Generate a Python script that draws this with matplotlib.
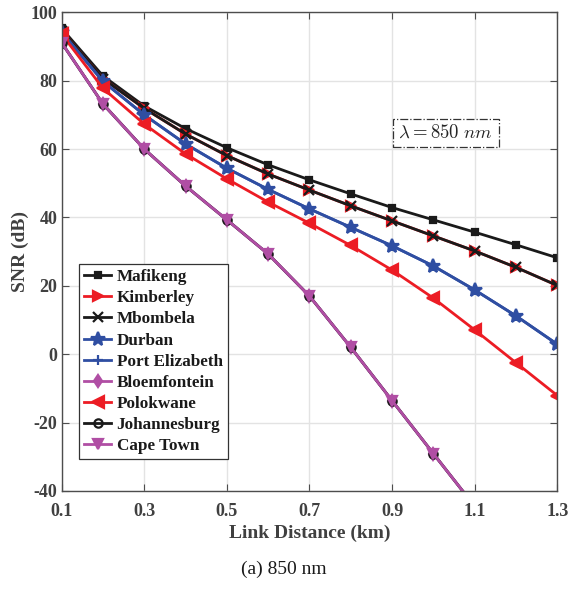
import numpy as np
import matplotlib
matplotlib.use("Agg")
import matplotlib.pyplot as plt

plt.rcParams["font.family"] = ["Liberation Serif", "DejaVu Serif"]
plt.rcParams["mathtext.fontset"] = "cm"
plt.rcParams["axes.unicode_minus"] = False

distance = [0.1, 0.2, 0.3, 0.4, 0.5, 0.6, 0.7, 0.8, 0.9, 1.0, 1.1, 1.2, 1.3]

snr_mafikeng = [95.3, 81.4, 72.6, 66.0, 60.4, 55.4, 51.0, 46.9, 42.9, 39.3, 35.7, 32.0, 28.2]
snr_mbombela = [94.6, 80.6, 71.9, 64.4, 58.1, 52.7, 48.0, 43.4, 39.0, 34.6, 30.2, 25.4, 20.1]
snr_durban = [94.2, 79.8, 70.0, 61.5, 54.4, 48.2, 42.5, 37.1, 31.7, 25.8, 18.8, 11.2, 2.9]
snr_polokwane = [93.6, 77.8, 67.3, 58.6, 51.3, 44.5, 38.3, 31.8, 24.6, 16.4, 7.1, -2.5, -12.1]
snr_johannesburg = [91.1, 73.2, 60.0, 49.2, 39.3, 29.3, 17.0, 2.0, -13.6, -29.1, -44.5, -60.0, -76.0]

black = "#1a1a1a"
red = "#ec1c24"
blue = "#2f4ea2"
magenta = "#b04ea4"

# (label, values, colour, marker, marker size)
series = [
    ("Mafikeng", snr_mafikeng, black, "s", 5),
    ("Kimberley", snr_mbombela, red, ">", 7),
    ("Mbombela", snr_mbombela, black, "x", 7),
    ("Durban", snr_durban, blue, "*", 10),
    ("Port Elizabeth", snr_durban, blue, "+", 7),
    ("Bloemfontein", snr_johannesburg, magenta, "d", 6),
    ("Polokwane", snr_polokwane, red, "<", 8),
    ("Johannesburg", snr_johannesburg, black, "o", 6),
    ("Cape Town", snr_johannesburg, magenta, "v", 7),
]

fig = plt.figure(figsize=(5.68, 5.90), dpi=100)
ax = fig.add_axes([0.1086, 0.168, 0.8725, 0.811])

for label, vals, col, mk, ms in series:
    fill = "none" if mk == "o" else col
    ax.plot(distance, vals, color=col, marker=mk, markersize=ms, linewidth=2.0,
            markerfacecolor=fill, markeredgecolor=col, markeredgewidth=1.6, label=label)

ax.set_xlim(0.1, 1.3)
ax.set_ylim(-40, 100)
ax.set_xticks([0.1, 0.3, 0.5, 0.7, 0.9, 1.1, 1.3])
ax.set_yticks([-40, -20, 0, 20, 40, 60, 80, 100])
ax.grid(True, color="#e3e3e3", linewidth=1.0)
ax.set_axisbelow(True)

for s in ax.spines.values():
    s.set_color("#4d4d4d")
    s.set_linewidth(1.0)
ax.tick_params(direction="in", top=True, right=True, length=5, color="#4d4d4d",
               labelsize=13, labelcolor="#404040")
ax.tick_params(axis="x", pad=9)
ax.tick_params(axis="y", pad=3)
for t in ax.get_xticklabels() + ax.get_yticklabels():
    t.set_fontweight("bold")

ax.set_xlabel("Link Distance (km)", fontsize=14, fontweight="bold", color="#404040", labelpad=3)
ax.set_ylabel("SNR (dB)", fontsize=14, fontweight="bold", color="#404040", labelpad=1)

ax.text(1.03, 64.7, r"$\lambda = 850\ nm$", fontsize=13.5, ha="center", va="center", color="#262626",
        bbox=dict(boxstyle="square,pad=0.3", facecolor="white", edgecolor="#333333",
                  linestyle="-.", linewidth=0.9))

leg = ax.legend(loc="lower left", bbox_to_anchor=(0.035, 0.066),
                prop={"weight": "bold", "size": 12.3}, handlelength=1.6, handletextpad=0.3,
                labelspacing=0.3, borderpad=0.3, fancybox=False, framealpha=1,
                edgecolor="#333333", borderaxespad=0)
leg.get_frame().set_linewidth(0.9)
for t in leg.get_texts():
    t.set_color("#1a1a1a")

fig.text(0.5, 0.035, "(a) 850 nm", ha="center", va="center", fontsize=14, color="#1a1a1a")

fig.savefig("out.png", dpi=100)
